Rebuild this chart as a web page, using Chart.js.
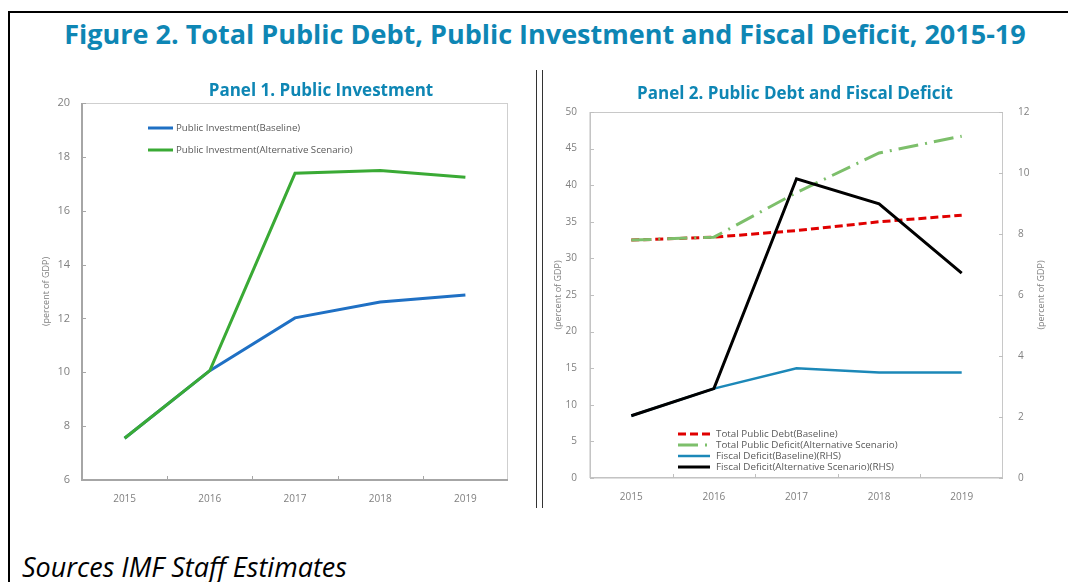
<!DOCTYPE html>
<html>
<head>
<meta charset="utf-8">
<script src="https://cdn.jsdelivr.net/npm/chart.js@4"></script>
<style>
  body { margin: 0; width: 1068px; height: 582px; overflow: hidden; background: #fff; font-family: "Open Sans", sans-serif; }
  #frame { position: absolute; left: 8px; top: 11px; width: 1100px; height: 700px; border: 2px solid #000; }
  #title { position: absolute; left: 0; width: 1090px; top: 15px; text-align: center; font-weight: bold; font-size: 27px; color: #0e86b4; white-space: nowrap; }
  .ptitle { position: absolute; font-weight: bold; font-size: 17px; color: #0e86b4; white-space: nowrap; transform: translate(-50%, -50%); }
  #divider { position: absolute; left: 536px; top: 70px; width: 5px; height: 438px; border-left: 1px solid #333; border-right: 1px solid #333; }
  #sources { position: absolute; left: 22px; top: 548px; font-style: italic; font-size: 27px; color: #000; white-space: nowrap; }
  .panel { position: absolute; top: 62px; height: 450px; }
  #p1 { left: 20px; width: 510px; }
  #p2 { left: 545px; width: 523px; }
</style>
</head>
<body>
<div id="frame"></div>
<div id="title">Figure 2. Total Public Debt, Public Investment and Fiscal Deficit, 2015-19</div>
<div id="divider"></div>
<div class="panel" id="p1"><canvas id="c1" width="510" height="450"></canvas></div>
<div class="panel" id="p2"><canvas id="c2" width="523" height="450"></canvas></div>
<div class="ptitle" style="left:321px; top:89px;">Panel 1. Public Investment</div>
<div class="ptitle" style="left:795px; top:92px;">Panel 2. Public Debt and Fiscal Deficit</div>
<div id="sources">Sources IMF Staff Estimates</div>
<script>
const years = ['2015', '2016', '2017', '2018', '2019'];
const invBaseline = [7.55, 10.06, 12.02, 12.61, 12.87];
const invAlternative = [7.55, 10.06, 17.39, 17.49, 17.24];
const debtBaseline = [32.5, 32.9, 33.8, 35.0, 35.9];
const debtAlternative = [32.5, 32.9, 39.0, 44.4, 46.7];
const deficitBaseline = [2.04, 2.93, 3.6, 3.46, 3.46];
const deficitAlternative = [2.04, 2.93, 9.81, 8.99, 6.72];

const tickFont = { family: 'Open Sans', size: 10 };
const gray = '#808080';
const axisTitle = '(percent of GDP)';

// plot box + small inside tick marks
const boxPlugin = {
  id: 'box',
  beforeDatasetsDraw(chart, args, opts) {
    const a = chart.chartArea, ctx = chart.ctx;
    ctx.save();
    ctx.strokeStyle = opts.light;
    ctx.lineWidth = 1;
    ctx.strokeRect(a.left + 0.5, a.top + 0.5, a.right - a.left - 1, a.bottom - a.top - 1);
    ctx.strokeStyle = opts.axis;
    ctx.lineWidth = opts.axisWidth;
    ctx.beginPath();
    ctx.moveTo(a.left, a.top);
    ctx.lineTo(a.left, a.bottom);
    ctx.lineTo(a.right, a.bottom);
    ctx.stroke();
    ctx.lineWidth = 1;
    const x = chart.scales.x;
    for (let i = 1; i < years.length; i++) {
      const px = Math.round((x.getPixelForValue(i - 1) + x.getPixelForValue(i)) / 2) + 0.5;
      ctx.beginPath(); ctx.moveTo(px, a.bottom); ctx.lineTo(px, a.bottom - 4); ctx.stroke();
    }
    ['y', 'y2'].forEach(id => {
      const s = chart.scales[id];
      if (!s) return;
      s.ticks.forEach(t => {
        const py = Math.round(s.getPixelForValue(t.value)) + 0.5;
        const x0 = id === 'y' ? a.left : a.right;
        const d = id === 'y' ? 4 : -4;
        ctx.beginPath(); ctx.moveTo(x0, py); ctx.lineTo(x0 + d, py); ctx.stroke();
      });
    });
    ctx.restore();
  }
};

// legend drawn inside the plot
const insideLegend = {
  id: 'insideLegend',
  afterDraw(chart, args, o) {
    const ctx = chart.ctx;
    ctx.save();
    ctx.font = o.size + 'px "Open Sans"';
    ctx.textBaseline = 'middle';
    chart.data.datasets.forEach((ds, i) => {
      const y = o.y + i * o.row;
      ctx.strokeStyle = ds.borderColor;
      ctx.lineWidth = ds.borderWidth;
      ctx.setLineDash(ds.borderDash || []);
      ctx.beginPath(); ctx.moveTo(o.x, y); ctx.lineTo(o.x + o.len, y); ctx.stroke();
      ctx.setLineDash([]);
      ctx.fillStyle = '#595959';
      ctx.fillText(ds.label, o.x + o.len + o.gap, y);
    });
    ctx.restore();
  }
};

// right axis title reading bottom-to-top, like the left one
const rightTitle = {
  id: 'rightTitle',
  afterDraw(chart) {
    const s = chart.scales.y2;
    if (!s) return;
    const ctx = chart.ctx, a = chart.chartArea;
    ctx.save();
    ctx.font = '9px "Open Sans"';
    ctx.fillStyle = gray;
    ctx.textAlign = 'center';
    ctx.textBaseline = 'middle';
    ctx.translate(s.right - 10, (a.top + a.bottom) / 2);
    ctx.rotate(-Math.PI / 2);
    ctx.fillText(axisTitle, 0, 0);
    ctx.restore();
  }
};

const fixW = w => s => { s.width = w; };
const fixH = h => s => { s.height = h; };

new Chart(document.getElementById('c1'), {
  type: 'line',
  data: {
    labels: years,
    datasets: [
      { label: 'Public Investment(Baseline)', data: invBaseline, order: 1, borderColor: '#1f70c4', borderWidth: 3, pointRadius: 0, tension: 0 },
      { label: 'Public Investment(Alternative Scenario)', data: invAlternative, order: 0, borderColor: '#3aaa35', borderWidth: 3, pointRadius: 0, tension: 0 }
    ]
  },
  options: {
    responsive: false,
    animation: false,
    layout: { padding: { left: 17, right: 22, top: 41, bottom: 0 } },
    plugins: {
      legend: { display: false },
      tooltip: { enabled: false },
      box: { light: '#cfcfcf', axis: '#a6a6a6', axisWidth: 2 },
      insideLegend: { x: 128, y: 66, row: 22, len: 25, gap: 3, size: 9.7 }
    },
    scales: {
      x: {
        offset: true,
        grid: { display: false },
        border: { display: false },
        ticks: { color: gray, font: tickFont, padding: 5, maxRotation: 0 },
        afterFit: fixH(32)
      },
      y: {
        min: 6, max: 20,
        grid: { display: false, drawTicks: false },
        border: { display: false },
        ticks: { stepSize: 2, color: gray, font: { family: 'Open Sans', size: 11 }, padding: 12 },
        title: { display: true, text: axisTitle, color: gray, font: { family: 'Open Sans', size: 9 }, padding: { top: 4, bottom: 0 } },
        afterFit: fixW(45)
      }
    }
  },
  plugins: [boxPlugin, insideLegend]
});

new Chart(document.getElementById('c2'), {
  type: 'line',
  data: {
    labels: years,
    datasets: [
      { label: 'Total Public Debt(Baseline)', data: debtBaseline, yAxisID: 'y', order: 3, borderColor: '#e00000', borderWidth: 3, borderDash: [8, 4], pointRadius: 0, tension: 0 },
      { label: 'Total Public Deficit(Alternative Scenario)', data: debtAlternative, yAxisID: 'y', order: 1, borderColor: '#7dbf6b', borderWidth: 3, borderDash: [20, 7, 2, 7], pointRadius: 0, tension: 0 },
      { label: 'Fiscal Deficit(Baseline)(RHS)', data: deficitBaseline, yAxisID: 'y2', order: 2, borderColor: '#1c88b8', borderWidth: 2.5, pointRadius: 0, tension: 0 },
      { label: 'Fiscal Deficit(Alternative Scenario)(RHS)', data: deficitAlternative, yAxisID: 'y2', order: 0, borderColor: '#000000', borderWidth: 3, pointRadius: 0, tension: 0 }
    ]
  },
  options: {
    responsive: false,
    animation: false,
    layout: { padding: { left: 4, right: 17, top: 50, bottom: 0 } },
    plugins: {
      legend: { display: false },
      tooltip: { enabled: false },
      box: { light: '#c8c8c8', axis: '#bfbfbf', axisWidth: 1 },
      insideLegend: { x: 133, y: 372, row: 11, len: 32, gap: 6, size: 9.8 }
    },
    scales: {
      x: {
        offset: true,
        grid: { display: false },
        border: { display: false },
        ticks: { color: gray, font: tickFont, padding: 5, maxRotation: 0 },
        afterFit: fixH(34)
      },
      y: {
        position: 'left',
        min: 0, max: 50,
        grid: { display: false, drawTicks: false },
        border: { display: false },
        ticks: { stepSize: 5, color: gray, font: tickFont, padding: 13 },
        title: { display: true, text: axisTitle, color: gray, font: { family: 'Open Sans', size: 9 }, padding: { top: 4, bottom: 0 } },
        afterFit: fixW(41)
      },
      y2: {
        position: 'right',
        min: 0, max: 12,
        grid: { display: false, drawTicks: false },
        border: { display: false },
        ticks: { stepSize: 2, color: gray, font: tickFont, padding: 15 },
        afterFit: fixW(48)
      }
    }
  },
  plugins: [boxPlugin, insideLegend, rightTitle]
});
</script>
</body>
</html>
